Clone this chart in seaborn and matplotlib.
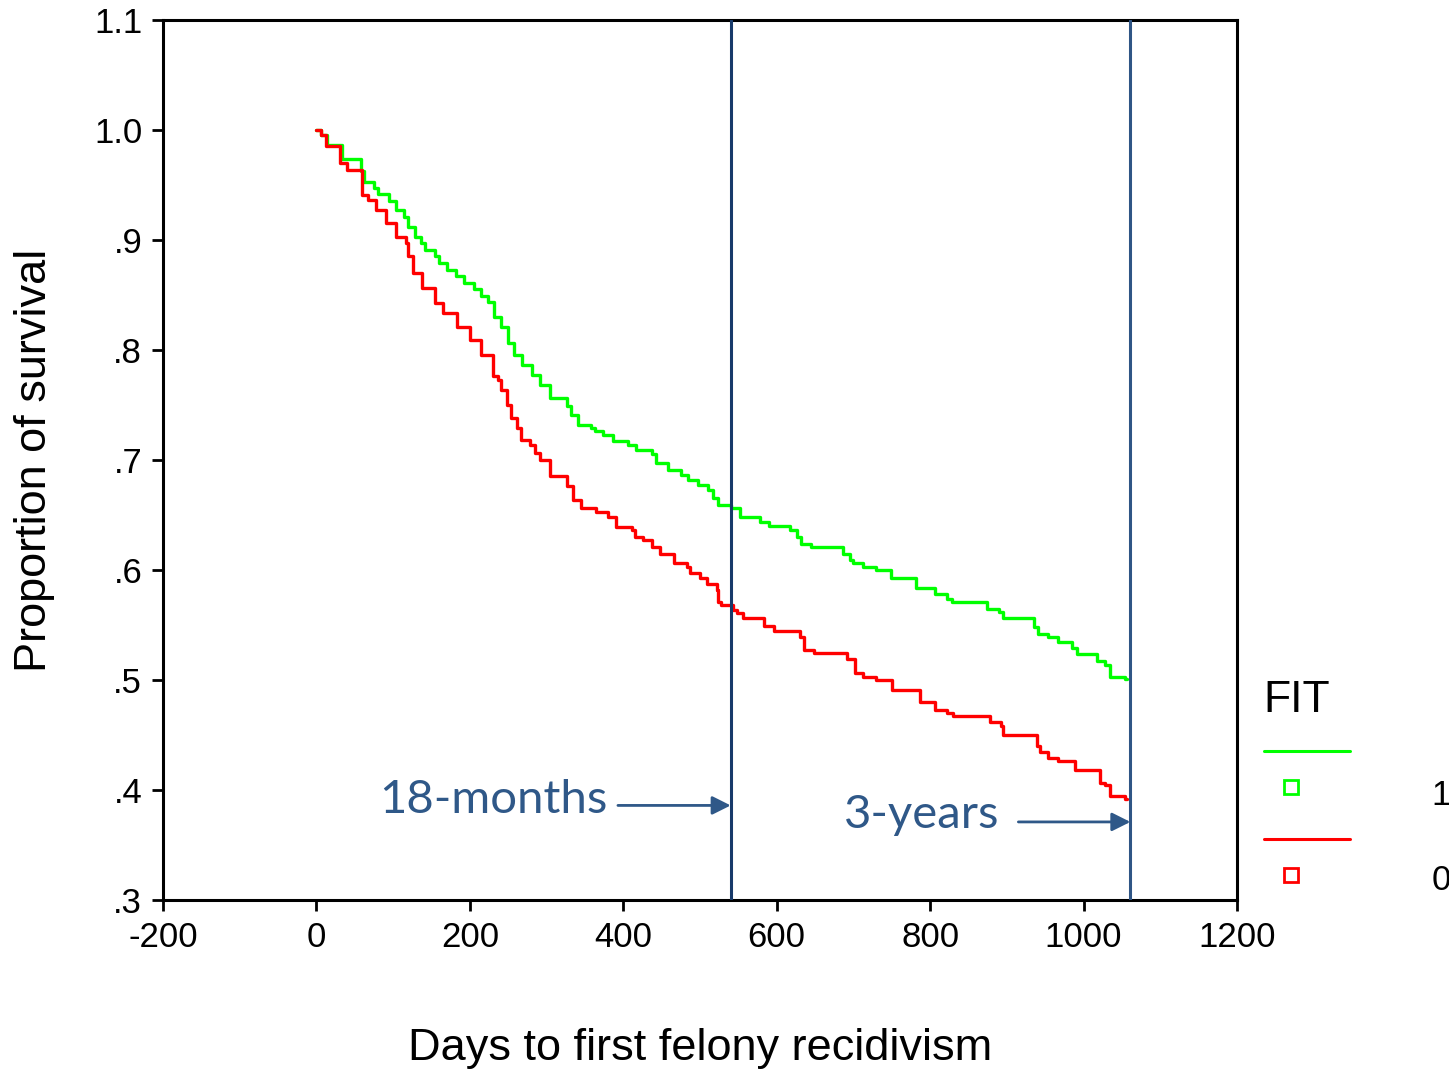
import numpy as np
import pandas as pd
import matplotlib
matplotlib.use("Agg")
import matplotlib.pyplot as plt
from matplotlib.lines import Line2D
import seaborn as sns

# Kaplan-Meier style step curves (day, proportion surviving)
fit1_days = [0, 6, 14, 33, 58, 62, 75, 80, 95, 104, 114, 120, 128, 136, 141, 155, 160, 170,
             182, 192, 205, 215, 224, 231, 240, 250, 257, 268, 281, 292, 305, 326, 332, 341,
             358, 363, 374, 387, 406, 417, 437, 443, 458, 475, 484, 497, 510, 517, 524, 540,
             552, 578, 590, 617, 626, 632, 645, 687, 695, 700, 713, 730, 749, 782, 806, 822,
             829, 874, 890, 895, 935, 940, 954, 967, 985, 991, 1017, 1028, 1034, 1054, 1056]
fit1_surv = [1.0, 0.995, 0.986, 0.974, 0.963, 0.953, 0.947, 0.942, 0.935, 0.927, 0.921, 0.912,
             0.903, 0.897, 0.891, 0.885, 0.879, 0.873, 0.867, 0.861, 0.855, 0.849, 0.844, 0.830,
             0.821, 0.806, 0.795, 0.786, 0.777, 0.768, 0.756, 0.749, 0.741, 0.732, 0.729, 0.726,
             0.723, 0.717, 0.714, 0.709, 0.705, 0.697, 0.691, 0.686, 0.682, 0.677, 0.673, 0.665,
             0.659, 0.656, 0.648, 0.644, 0.640, 0.636, 0.630, 0.624, 0.621, 0.615, 0.609, 0.606,
             0.603, 0.600, 0.593, 0.584, 0.578, 0.574, 0.571, 0.565, 0.562, 0.556, 0.548, 0.542,
             0.539, 0.535, 0.529, 0.524, 0.517, 0.514, 0.503, 0.501, 0.501]

fit0_days = [0, 6, 13, 31, 40, 59, 67, 78, 91, 104, 117, 120, 126, 137, 155, 165, 183, 200,
             215, 230, 237, 241, 248, 254, 261, 267, 278, 285, 291, 305, 326, 335, 345, 365,
             380, 391, 411, 415, 426, 437, 448, 466, 483, 487, 500, 509, 522, 524, 528, 543,
             548, 556, 583, 596, 630, 635, 648, 692, 702, 713, 730, 750, 787, 806, 822, 830,
             878, 893, 895, 939, 943, 954, 967, 989, 1021, 1028, 1034, 1054, 1056]
fit0_surv = [1.0, 0.995, 0.985, 0.970, 0.964, 0.941, 0.936, 0.927, 0.915, 0.903, 0.897, 0.885,
             0.870, 0.856, 0.843, 0.834, 0.821, 0.809, 0.795, 0.776, 0.773, 0.764, 0.750, 0.738,
             0.729, 0.718, 0.714, 0.706, 0.700, 0.685, 0.676, 0.664, 0.656, 0.653, 0.648, 0.639,
             0.636, 0.630, 0.627, 0.621, 0.615, 0.606, 0.603, 0.597, 0.593, 0.587, 0.582, 0.571,
             0.568, 0.564, 0.561, 0.556, 0.549, 0.545, 0.539, 0.527, 0.525, 0.519, 0.506, 0.503,
             0.500, 0.491, 0.480, 0.473, 0.470, 0.467, 0.462, 0.458, 0.450, 0.440, 0.435, 0.429,
             0.426, 0.418, 0.406, 0.405, 0.395, 0.392, 0.392]

cutoff_days = [540, 1061]
cutoff_labels = ["18-months", "3-years"]
x_ticks = [-200, 0, 200, 400, 600, 800, 1000, 1200]
y_ticks = [1.1, 1.0, 0.9, 0.8, 0.7, 0.6, 0.5, 0.4, 0.3]
y_tick_labels = ["1.1", "1.0", ".9", ".8", ".7", ".6", ".5", ".4", ".3"]

df = pd.concat([
    pd.DataFrame({"day": fit1_days, "surv": fit1_surv, "FIT": "1"}),
    pd.DataFrame({"day": fit0_days, "surv": fit0_surv, "FIT": "0"}),
])

sns.set_style("white")
plt.rcParams["font.family"] = ["Liberation Sans", "DejaVu Sans"]
plt.rcParams["text.color"] = "black"
plt.rcParams["axes.labelcolor"] = "black"
plt.rcParams["xtick.color"] = "black"
plt.rcParams["ytick.color"] = "black"

green = "#00ff00"
red = "#ff0000"
note_color = "#2f5888"

fig = plt.figure(figsize=(14.49, 10.73), dpi=100)
ax = fig.add_axes([0.1125, 0.1612, 0.8537 - 0.1125, 0.9814 - 0.1612])

sns.lineplot(data=df, x="day", y="surv", hue="FIT", palette={"1": green, "0": red},
             drawstyle="steps-post", estimator=None, sort=False, linewidth=2.4,
             legend=False, ax=ax)

# cut-off lines and their notes
ax.axvline(cutoff_days[0], color="#173a6a", lw=2.2, zorder=5)
ax.axvline(cutoff_days[1], color="#2f5585", lw=2.2, zorder=5)

ax.text(380, 0.391, cutoff_labels[0], ha="right", va="center", fontsize=34,
        color=note_color, family=["Lato", "DejaVu Sans"])
ax.annotate("", xy=(cutoff_days[0], 0.386), xytext=(393, 0.386),
            arrowprops=dict(arrowstyle="-|>", color=note_color, lw=2, mutation_scale=28,
                            shrinkA=0, shrinkB=0))
ax.text(891, 0.377, cutoff_labels[1], ha="right", va="center", fontsize=34,
        color=note_color, family=["Lato", "DejaVu Sans"])
ax.annotate("", xy=(cutoff_days[1], 0.371), xytext=(915, 0.371),
            arrowprops=dict(arrowstyle="-|>", color=note_color, lw=2, mutation_scale=28,
                            shrinkA=0, shrinkB=0))

ax.set_xlim(-200, 1200)
ax.set_ylim(0.3, 1.1)
ax.set_xticks(x_ticks)
ax.set_xticklabels([str(t) for t in x_ticks])
ax.set_yticks(y_ticks)
ax.set_yticklabels(y_tick_labels)
ax.tick_params(axis="both", direction="out", length=8, width=2, labelsize=25,
               bottom=True, left=True, pad=7, colors="black")
for s in ax.spines.values():
    s.set_color("black")
    s.set_linewidth(2.2)

ax.set_xlabel("Days to first felony recidivism", fontsize=32.5)
ax.xaxis.set_label_coords(0.5, -0.145)
ax.set_ylabel("Proportion of survival", fontsize=32.5, labelpad=28)

# hand-made legend to the right of the axes
fig.text(0.8716, 0.3476, "FIT", fontsize=32, va="center", ha="left")
for yl, ym, yt, col, lab in [(0.3001, 0.2665, 0.259, green, "1"),
                             (0.2181, 0.1845, 0.179, red, "0")]:
    fig.add_artist(Line2D([0.8723, 0.9317], [yl, yl], color=col, lw=2.2,
                          transform=fig.transFigure))
    fig.add_artist(Line2D([0.891], [ym], marker="s", markersize=10, markerfacecolor="none",
                          markeredgecolor=col, markeredgewidth=2, linestyle="none",
                          transform=fig.transFigure))
    fig.text(0.988, yt, lab, fontsize=25, va="center", ha="left")

fig.savefig("out.png", dpi=100)
